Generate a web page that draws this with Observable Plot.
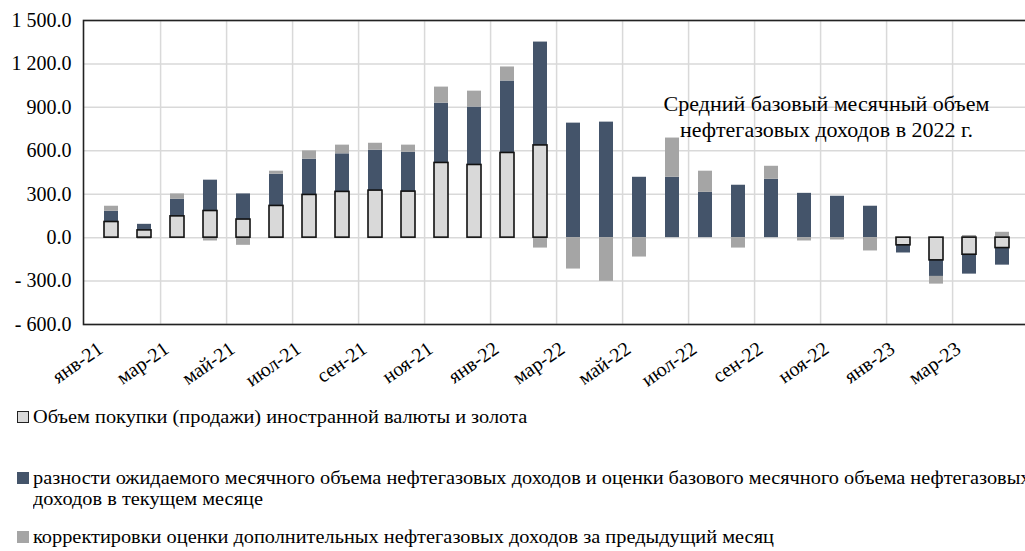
<!DOCTYPE html>
<html><head><meta charset="utf-8">
<script src="https://cdn.jsdelivr.net/npm/d3@7"></script>
<script src="https://cdn.jsdelivr.net/npm/@observablehq/plot@0.6"></script>
<style>
body{margin:0;background:#fff;overflow:hidden;}
#wrap{position:relative;width:1025px;height:551px;overflow:hidden;font-family:"Liberation Serif","Times New Roman",serif;color:#000;}
#wrap svg{position:absolute;left:0;top:0;}
.lg{position:absolute;left:17px;white-space:nowrap;font-size:18px;line-height:21px;}
.sw{position:absolute;left:0;top:4px;width:12px;height:12px;box-sizing:border-box;}
.tx{position:absolute;left:16px;top:0;transform:scaleX(1.13);transform-origin:0 0;}
</style></head><body><div id="wrap"></div>
<script>
const months = ["янв-21","фев-21","мар-21","апр-21","май-21","июн-21","июл-21","авг-21","сен-21","окт-21","ноя-21","дек-21",
"янв-22","фев-22","мар-22","апр-22","май-22","июн-22","июл-22","авг-22","сен-22","окт-22","ноя-22","дек-22",
"янв-23","фев-23","мар-23","апр-23"];
const purchase    = [108, 50, 147, 184, 125, 219, 295, 316, 325, 318, 516, 502, 585, 637, null, null, null, null, null, null, null, null, null, null, -53, -157, -118, -72];
const oilGasDiff  = [74, 42, 118, 213, 177, 219, 247, 263, 279, 272, 413, 400, 497, 714, 791, 798, 417, 417, 313, 362, 403, 306, 286, 217, -53, -111, -134, -118];
const corrections = [35, -10, 37, -23, -53, 21, 57, 60, 48, 49, 111, 110, 97, -72, -217, -302, -134, 271, 146, -72, 90, -23, -16, -92, null, -53, 15, 37];
const seriesNames = [
  "Объем покупки (продажи) иностранной валюты и золота",
  "разности ожидаемого месячного объема нефтегазовых доходов и оценки базового месячного объема нефтегазовых доходов в текущем месяце",
  "корректировки оценки дополнительных нефтегазовых доходов за предыдущий месяц"
];
const yTicks = [-600, -300, 0, 300, 600, 900, 1200, 1500];
const annotation = "Средний базовый месячный объем\nнефтегазовых доходов в 2022 г.";

const colors = ["#d9d9d9", "#44546a", "#a5a5a5"];
const W = 1025, H = 395, ML = 83, MR = -5;
const step = (W - MR - ML) / months.length;
const FONT = '"Liberation Serif", "Times New Roman", serif';

const rows = [];
[purchase, oilGasDiff, corrections].forEach((arr, si) => {
  arr.forEach((v, i) => { if (v != null) rows.push({month: months[i], series: seriesNames[si], value: v}); });
});
const tickMonths = months.filter((d, i) => i % 2 === 0);
const gridMonths = months.filter((d, i) => i % 2 === 0 && i > 0);
const fmt = d => (d < 0 ? "- " : "") + d3.format(",.1f")(Math.abs(d)).replace(/,/g, " ");

const chart = Plot.plot({
  width: W, height: H,
  marginLeft: ML, marginRight: MR, marginTop: 20, marginBottom: H - 324,
  style: {fontFamily: FONT, fontSize: "18px", background: "transparent", overflow: "visible"},
  x: {type: "band", domain: months, paddingInner: 0.58, paddingOuter: 0.29, axis: null},
  y: {domain: [-600, 1500], axis: null},
  color: {domain: seriesNames, range: colors},
  marks: [
    Plot.ruleY(yTicks, {stroke: "#d9d9d9", strokeWidth: 1.5}),
    Plot.ruleX(gridMonths, {x: d => d, dx: -step / 2, stroke: "#d9d9d9", strokeWidth: 1.5}),
    Plot.barY(rows, Plot.stackY({x: "month", y: "value", fill: "series"})),
    Plot.barY(rows.filter(d => d.series === seriesNames[0]), {x: "month", y: "value", fill: "none", stroke: "#111", strokeWidth: 1.6}),
    Plot.frame({stroke: "#222", strokeWidth: 1.6}),
    Plot.axisY(yTicks, {tickSize: 0, tickPadding: 12, tickFormat: fmt, fontSize: 20, label: null}),
    Plot.axisX(tickMonths, {tickSize: 0, tickPadding: 22, tickRotate: -35, fontSize: 20, dx: -11, label: null}),
    Plot.text([annotation], {text: d => d, frameAnchor: "top-left", dx: 826 - ML, dy: 95, lineAnchor: "middle", textAnchor: "middle", fontSize: 22, lineHeight: 1.18, fill: "#000"})
  ]
});
const wrap = document.getElementById("wrap");
wrap.appendChild(chart);

const legendPos = [{top: 407}, {top: 468}, {top: 527}];
seriesNames.forEach((name, i) => {
  const div = document.createElement("div");
  div.className = "lg";
  div.style.top = legendPos[i].top + "px";
  const sw = document.createElement("div");
  sw.className = "sw";
  sw.style.background = colors[i];
  if (i === 0) sw.style.border = "1.5px solid #222";
  const tx = document.createElement("div");
  tx.className = "tx";
  if (i === 1) {
    tx.innerHTML = "разности ожидаемого месячного объема нефтегазовых доходов и оценки базового месячного объема нефтегазовых<br>доходов в текущем месяце";
  } else tx.textContent = name;
  div.appendChild(sw); div.appendChild(tx);
  wrap.appendChild(div);
});
</script></body></html>
